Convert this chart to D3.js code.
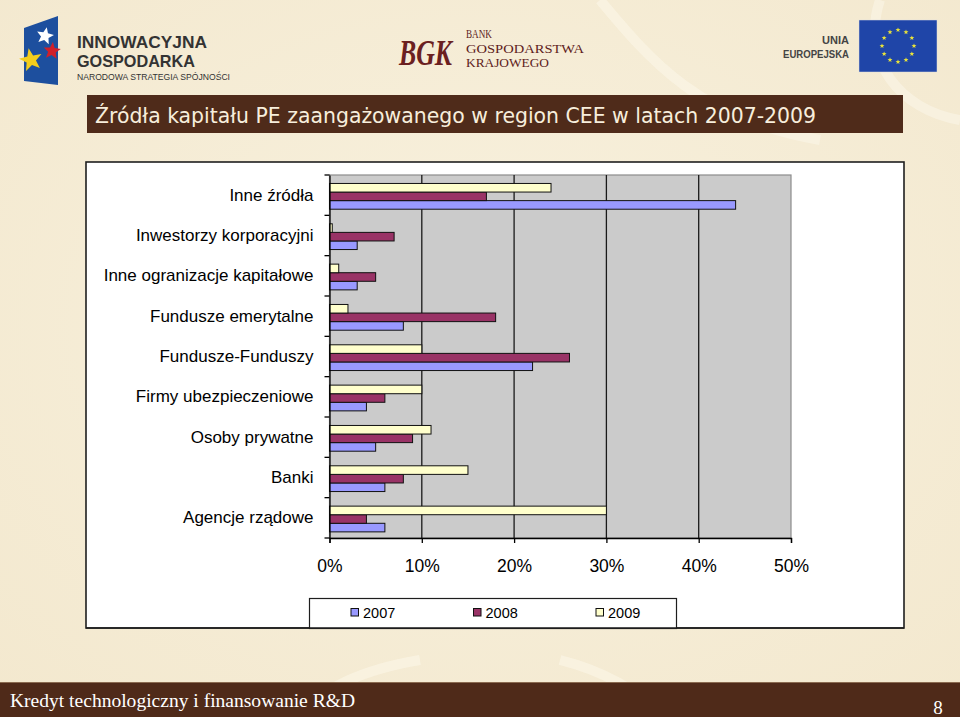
<!DOCTYPE html>
<html>
<head>
<meta charset="utf-8">
<script src="https://cdn.jsdelivr.net/npm/d3@7"></script>
<style>
  html, body { margin: 0; padding: 0; background: #F5ECD6; }
  svg { display: block; }
</style>
</head>
<body>
<svg id="chart" width="960" height="717"></svg>
<script>
// ---------- DATA ----------
const categories = [
  "Inne źródła",
  "Inwestorzy korporacyjni",
  "Inne ogranizacje kapitałowe",
  "Fundusze emerytalne",
  "Fundusze-Funduszy",
  "Firmy ubezpieczeniowe",
  "Osoby prywatne",
  "Banki",
  "Agencje rządowe"
];
const years = ["2007", "2008", "2009"];
const values2007 = [44, 3, 3, 8, 22, 4, 5, 6, 6];
const values2008 = [17, 7, 5, 18, 26, 6, 9, 8, 4];
const values2009 = [24, 0.3, 1, 2, 10, 10, 11, 15, 30];
const xTickValues = [0, 10, 20, 30, 40, 50];
const titleText = "Źródła kapitału PE zaangażowanego w region CEE w latach 2007-2009";
const footerText = "Kredyt technologiczny i finansowanie R&D";
const pageNumber = "8";

const seriesValues = { "2007": values2007, "2008": values2008, "2009": values2009 };
const seriesColor = { "2007": "#9999FF", "2008": "#993366", "2009": "#FFFFCC" };

const svg = d3.select("#chart");

// ---------- BACKGROUND ----------
const defs = svg.append("defs");
const rg = defs.append("radialGradient").attr("id", "bg").attr("cx", "50%").attr("cy", "45%").attr("r", "75%");
rg.append("stop").attr("offset", "0%").attr("stop-color", "#F8F1DE");
rg.append("stop").attr("offset", "100%").attr("stop-color", "#F3E8CE");
svg.append("rect").attr("width", 960).attr("height", 717).attr("fill", "url(#bg)");

const swirl = svg.append("g").attr("fill", "none").attr("stroke", "#FBF6E8").attr("stroke-width", 10).attr("opacity", 0.6);
swirl.append("path").attr("d", "M600,0 C650,60 700,120 820,140");
swirl.append("path").attr("d", "M880,0 C860,60 900,110 960,120");
swirl.append("path").attr("d", "M300,717 C320,690 360,670 420,660");
swirl.append("path").attr("d", "M660,717 C640,690 600,670 560,660");

// ---------- LOGOS ----------
function starPath(cx, cy, R, r, rot) {
  const pts = [];
  for (let i = 0; i < 10; i++) {
    const a = rot + i * Math.PI / 5 - Math.PI / 2;
    const rr = i % 2 === 0 ? R : r;
    pts.push([cx + rr * Math.cos(a), cy + rr * Math.sin(a)]);
  }
  return "M" + pts.map(p => p.join(",")).join("L") + "Z";
}
const lg = svg.append("g");
lg.append("path").attr("d", "M24,28 L58,16 L58,85 L24,81 Z").attr("fill", "#1D4F9E");
lg.append("path").attr("d", starPath(45, 36, 9, 4, 0.2)).attr("fill", "#FFFFFF");
lg.append("path").attr("d", starPath(52, 51, 9, 4, 0.1)).attr("fill", "#D0202A");
lg.append("path").attr("d", starPath(31, 60, 12, 5, -0.2)).attr("fill", "#F4CE1C");
const logoFont = "'Liberation Sans', Arial, sans-serif";
lg.append("text").attr("x", 77).attr("y", 48).text("INNOWACYJNA")
  .attr("font-family", logoFont).attr("font-weight", 700)
  .attr("font-size", 17).attr("fill", "#333333").attr("textLength", 130).attr("lengthAdjust", "spacingAndGlyphs");
lg.append("text").attr("x", 77).attr("y", 67).text("GOSPODARKA")
  .attr("font-family", logoFont).attr("font-weight", 700)
  .attr("font-size", 17).attr("fill", "#333333").attr("textLength", 118).attr("lengthAdjust", "spacingAndGlyphs");
lg.append("text").attr("x", 77).attr("y", 79.5).text("NARODOWA STRATEGIA SPÓJNOŚCI")
  .attr("font-family", logoFont)
  .attr("font-size", 8.5).attr("fill", "#333333").attr("textLength", 153).attr("lengthAdjust", "spacingAndGlyphs");

const mg = svg.append("g");
mg.append("text").attr("x", 399).attr("y", 65).text("BGK")
  .attr("font-family", "'Liberation Serif', 'DejaVu Serif', serif").attr("font-style", "italic").attr("font-weight", 700)
  .attr("font-size", 36).attr("fill", "#6B2020").attr("textLength", 53).attr("lengthAdjust", "spacingAndGlyphs");
const bankFont = "'Liberation Serif', 'DejaVu Serif', serif";
mg.append("text").attr("x", 466).attr("y", 38).text("BANK").attr("font-family", bankFont)
  .attr("font-size", 13.5).attr("fill", "#5E1C1C").attr("textLength", 26).attr("lengthAdjust", "spacingAndGlyphs");
mg.append("text").attr("x", 466).attr("y", 53).text("GOSPODARSTWA").attr("font-family", bankFont)
  .attr("font-size", 13.5).attr("fill", "#5E1C1C").attr("textLength", 118).attr("lengthAdjust", "spacingAndGlyphs");
mg.append("text").attr("x", 466).attr("y", 67).text("KRAJOWEGO").attr("font-family", bankFont)
  .attr("font-size", 13.5).attr("fill", "#5E1C1C").attr("textLength", 83).attr("lengthAdjust", "spacingAndGlyphs");

const eg = svg.append("g");
eg.append("text").attr("x", 849).attr("y", 44).attr("text-anchor", "end").text("UNIA")
  .attr("font-family", logoFont).attr("font-size", 11).attr("font-weight", 700).attr("fill", "#444");
eg.append("text").attr("x", 849).attr("y", 58).attr("text-anchor", "end").text("EUROPEJSKA")
  .attr("font-family", logoFont).attr("font-size", 11).attr("font-weight", 700).attr("fill", "#444")
  .attr("textLength", 66).attr("lengthAdjust", "spacingAndGlyphs");
eg.append("rect").attr("x", 859).attr("y", 20).attr("width", 78).attr("height", 52).attr("fill", "#1F45A8")
  .attr("stroke", "#DDD").attr("stroke-width", 0.5);
for (let i = 0; i < 12; i++) {
  const a = i * Math.PI / 6;
  eg.append("path").attr("d", starPath(898 + 16 * Math.cos(a), 46 + 16 * Math.sin(a), 2.6, 1.1, 0)).attr("fill", "#E8E23A");
}

// ---------- TITLE BAR ----------
svg.append("rect").attr("x", 87).attr("y", 95).attr("width", 816).attr("height", 38).attr("fill", "#4F2B1A");
svg.append("text").attr("x", 95).attr("y", 123).text(titleText)
  .attr("font-family", "Tahoma, 'DejaVu Sans Condensed', 'DejaVu Sans', sans-serif")
  .attr("font-size", 22).attr("fill", "#F7EEDC")
  .attr("textLength", 721).attr("lengthAdjust", "spacingAndGlyphs");

// ---------- CHART BOX ----------
svg.append("rect").attr("x", 86).attr("y", 162).attr("width", 818).attr("height", 466)
  .attr("fill", "#FFFFFF").attr("stroke", "#1E1E1E").attr("stroke-width", 1.6);

const plot = { left: 329.5, right: 791, top: 175, bottom: 538 };

const x = d3.scaleLinear().domain([0, 50]).range([plot.left, plot.right]);
const y0 = d3.scaleBand().domain(categories).range([plot.top, plot.bottom]);
const y1 = d3.scaleBand().domain(["2009", "2008", "2007"]).range([0, y0.bandwidth()]).paddingOuter(0.85).align(0.58);

svg.append("rect").attr("x", plot.left).attr("y", plot.top)
  .attr("width", plot.right - plot.left).attr("height", plot.bottom - plot.top)
  .attr("fill", "#CBCBCB").attr("stroke", "#8C8C8C").attr("stroke-width", 1.2);

svg.append("g").selectAll("line").data(xTickValues.filter(v => v > 0 && v < 50)).join("line")
  .attr("x1", d => x(d)).attr("x2", d => x(d)).attr("y1", plot.top).attr("y2", plot.bottom)
  .attr("stroke", "#1A1A1A").attr("stroke-width", 1.3);

const groups = svg.append("g").selectAll("g").data(categories).join("g")
  .attr("transform", d => `translate(0,${y0(d)})`);
groups.selectAll("rect").data((c, i) => years.map(yr => ({ yr, v: seriesValues[yr][i] }))).join("rect")
  .attr("x", x(0))
  .attr("y", d => y1(d.yr))
  .attr("width", d => x(d.v) - x(0))
  .attr("height", y1.bandwidth())
  .attr("fill", d => seriesColor[d.yr])
  .attr("stroke", "#111").attr("stroke-width", 1);

const xAxis = svg.append("g").attr("transform", `translate(0,${plot.bottom})`)
  .call(d3.axisBottom(x).tickValues(xTickValues).tickFormat(d => d + "%").tickSize(5).tickPadding(17));
xAxis.select(".domain").attr("stroke", "#000").attr("stroke-width", 1.3);
xAxis.selectAll(".tick line").attr("stroke", "#000").attr("stroke-width", 1.3);
xAxis.selectAll("text").attr("font-family", "'Liberation Sans', Arial, sans-serif").attr("font-size", 17.5).attr("fill", "#000");

const yAxis = svg.append("g").attr("transform", `translate(${plot.left},0)`)
  .call(d3.axisLeft(y0).tickSize(0).tickPadding(16));
yAxis.select(".domain").attr("stroke", "#000").attr("stroke-width", 1.3);
yAxis.selectAll("text").attr("font-family", "'Liberation Sans', Arial, sans-serif").attr("font-size", 17).attr("fill", "#000");
const bounds = categories.map(c => y0(c)).concat([plot.bottom]);
svg.append("g").selectAll("line").data(bounds).join("line")
  .attr("x1", plot.left - 5).attr("x2", plot.left).attr("y1", d => d).attr("y2", d => d)
  .attr("stroke", "#000").attr("stroke-width", 1.3);

const legend = svg.append("g");
legend.append("rect").attr("x", 309.5).attr("y", 598.5).attr("width", 367).attr("height", 30)
  .attr("fill", "#FFFFFF").attr("stroke", "#1E1E1E").attr("stroke-width", 1.2);
const legendX = d3.scalePoint().domain(years).range([351, 596]);
const li = legend.selectAll("g").data(years).join("g").attr("transform", d => `translate(${legendX(d)},0)`);
li.append("rect").attr("x", 0).attr("y", 608.5).attr("width", 7.5).attr("height", 7.5)
  .attr("fill", d => seriesColor[d]).attr("stroke", "#111").attr("stroke-width", 1);
li.append("text").attr("x", 12).attr("y", 618).text(d => d)
  .attr("font-family", "'Liberation Sans', Arial, sans-serif").attr("font-size", 14.5).attr("fill", "#000");

svg.append("line").attr("x1", 86).attr("x2", 904).attr("y1", 628).attr("y2", 628).attr("stroke", "#1E1E1E").attr("stroke-width", 1.6);

// ---------- FOOTER ----------
svg.append("rect").attr("x", 0).attr("y", 683).attr("width", 960).attr("height", 34).attr("fill", "#4F2A19");
svg.append("line").attr("x1", 0).attr("x2", 960).attr("y1", 682.5).attr("y2", 682.5).attr("stroke", "#8A6A50").attr("stroke-width", 1);
svg.append("text").attr("x", 10).attr("y", 707).text(footerText)
  .attr("font-family", "'Liberation Serif', 'Times New Roman', serif").attr("font-size", 19).attr("fill", "#FFFFFF")
  .attr("textLength", 345).attr("lengthAdjust", "spacingAndGlyphs");
svg.append("text").attr("x", 938).attr("y", 714).attr("text-anchor", "middle").text(pageNumber)
  .attr("font-family", "'Liberation Serif', 'Times New Roman', serif").attr("font-size", 19).attr("fill", "#FFFFFF");
</script>
</body>
</html>
